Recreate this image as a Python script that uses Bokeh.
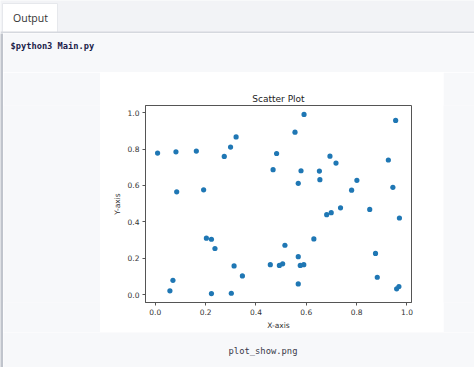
from bokeh.plotting import figure
from bokeh.layouts import column, row
from bokeh.models import Range1d, FixedTicker
from bokeh.core.properties import value
from bokeh.embed import file_html
from bokeh.resources import INLINE

# ---- data ----
x_vals = [0.009, 0.082, 0.085, 0.058, 0.070, 0.163, 0.192, 0.203, 0.223, 0.237,
          0.223, 0.274, 0.299, 0.321, 0.313, 0.302, 0.346, 0.468, 0.482, 0.457,
          0.493, 0.506, 0.515, 0.555, 0.591, 0.568, 0.579, 0.568, 0.576, 0.590,
          0.568, 0.630, 0.652, 0.654, 0.681, 0.699, 0.694, 0.718, 0.736, 0.780,
          0.801, 0.852, 0.875, 0.882, 0.926, 0.955, 0.944, 0.970, 0.959, 0.968]
y_vals = [0.778, 0.785, 0.565, 0.020, 0.078, 0.789, 0.576, 0.310, 0.304, 0.253,
          0.005, 0.760, 0.811, 0.867, 0.157, 0.007, 0.102, 0.687, 0.776, 0.164,
          0.160, 0.169, 0.271, 0.893, 0.991, 0.612, 0.681, 0.208, 0.160, 0.164,
          0.058, 0.306, 0.679, 0.632, 0.439, 0.450, 0.761, 0.723, 0.477, 0.574,
          0.628, 0.468, 0.226, 0.095, 0.740, 0.958, 0.590, 0.421, 0.031, 0.044]
tick_values = [0.0, 0.2, 0.4, 0.6, 0.8, 1.0]
tick_labels = ["0.0", "0.2", "0.4", "0.6", "0.8", "1.0"]
title_text = "Scatter Plot"
x_label = "X-axis"
y_label = "Y-axis"
tab_text = "Output"
command_text = "$python3 Main.py"
caption_text = "plot_show.png"

PAGE_BG = "#f7f8fa"
BAND_BG = "#f2f3f6"
EDGE = "#c0c4cc"
SANS = "DejaVu Sans"


def canvas(w, h, y0, y1, bg=PAGE_BG):
    f = figure(width=w, height=h, x_range=Range1d(0, w), y_range=Range1d(y1, y0),
               output_backend="svg", toolbar_location=None,
               x_axis_type=None, y_axis_type=None, min_border=0)
    f.outline_line_color = None
    f.background_fill_color = bg
    f.border_fill_color = bg
    return f

# ---- top band with the tab ----
band = canvas(474, 33, 0, 33, BAND_BG)
band.quad(left=2, right=57, top=3, bottom=32, fill_color="white", line_color="#e6e8ec")
band.quad(left=0, right=474, top=31, bottom=33, color="#d5d8de", line_color=None)
band.text(x=[30], y=[17.5], text=[tab_text], text_align="center", text_baseline="middle",
          text_font=value("Open Sans"), text_font_size="10.5px", text_color="#333333")

# ---- left edge of the output panel ----
edge = canvas(3, 334, 33, 367, EDGE)

# ---- command line (page y 33..72) ----
cmd = canvas(471, 39, 33, 72)
cmd.text(x=[7], y=[45.5], text=[command_text], text_align="left", text_baseline="middle",
         text_font=value("DejaVu Sans Mono"), text_font_style="bold",
         text_font_size="8.7px", text_color="#1c1c4a")

# ---- side fillers ----
left = canvas(97, 260, 72, 332)
right = canvas(31, 260, 72, 332)

# ---- scatter plot ----
p = figure(width=343, height=260, x_range=Range1d(-0.039, 1.018),
           y_range=Range1d(-0.044, 1.040), output_backend="svg",
           toolbar_location=None, title=title_text,
           min_border_left=45, min_border_right=32, min_border_top=33,
           min_border_bottom=29)
p.background_fill_color = "white"
p.border_fill_color = "white"
p.outline_line_color = "#555555"
p.outline_line_width = 1
p.grid.visible = False
p.title.align = "center"
p.title.text_font = SANS
p.title.text_font_size = "9px"
p.title.text_font_style = "normal"
p.title.text_color = "#222222"
p.title.standoff = 3
p.title.offset = 0
overrides = {t: l for t, l in zip(tick_values, tick_labels)}
for ax, lab in ((p.xaxis[0], x_label), (p.yaxis[0], y_label)):
    ax.ticker = FixedTicker(ticks=tick_values)
    ax.major_label_overrides = overrides
    ax.axis_label = lab
    ax.axis_label_text_font = SANS
    ax.axis_label_text_font_size = "7.5px"
    ax.axis_label_text_font_style = "normal"
    ax.axis_label_text_color = "#333333"
    ax.major_label_text_font = SANS
    ax.major_label_text_font_size = "7.5px"
    ax.major_label_text_color = "#333333"
    ax.major_label_standoff = 3
    ax.axis_label_standoff = 3
    ax.axis_line_color = "#555555"
    ax.major_tick_line_color = "#555555"
    ax.major_tick_in = 0
    ax.major_tick_out = 3
    ax.minor_tick_line_color = None
p.yaxis[0].major_label_orientation = "horizontal"
p.scatter(x_vals, y_vals, size=5.2, fill_color="#1f77b4", line_color=None)

# ---- caption (page y 332..367) ----
cap = canvas(471, 35, 332, 367)
cap.text(x=[259.5], y=[350], text=[caption_text], text_align="center", text_baseline="middle",
         text_font=value("DejaVu Sans Mono"), text_font_size="8.8px", text_color="#3a3a4a")

foot = canvas(474, 3, 367, 370, "white")

panel = column(cmd, row(left, p, right, spacing=0), cap, spacing=0)
layout = column(band, row(edge, panel, spacing=0), foot, spacing=0)
open("out.html", "w").write(file_html(layout, INLINE))
